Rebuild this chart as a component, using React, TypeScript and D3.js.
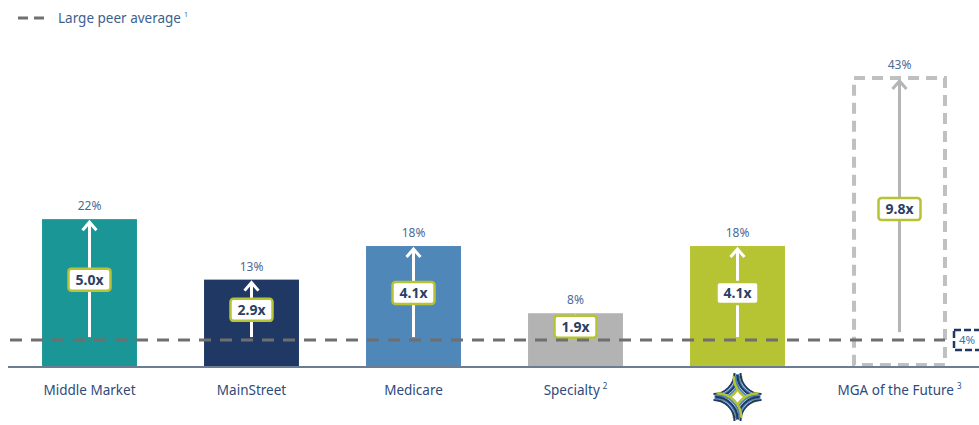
import React from "react";
import * as d3 from "d3";

const categories = ["Middle Market", "MainStreet", "Medicare", "Specialty", "", "MGA of the Future"];
const superscripts = ["", "", "", "2", "", "3"];
const marginPct = [22, 13, 18, 8, 18, 43];
const multiples = ["5.0x", "2.9x", "4.1x", "1.9x", "4.1x", "9.8x"];
const barColors = ["#1a9696", "#1f3864", "#4f87b9", "#b3b3b3", "#b6c333", "none"];
const peerAverage = 4;

const W = 979;
const H = 425;
const FONT = "'Noto Sans', 'Open Sans', sans-serif";

export default function App() {
  const x = d3.scaleBand<string>().domain(categories.map((c, i) => String(i))).range([8.5, 980.5]).paddingInner(0.414).paddingOuter(0.207);
  const y = d3.scaleLinear().domain([0, 43]).range([367, 78]);
  const bw = x.bandwidth();
  const yPeer = y(peerAverage);

  const logoCx = (x("4") as number) + bw / 2;
  const logoCy = 397;
  const logoArcs: { d: string; c: string }[] = [];
  const strands = [
    { off: 24, r: 21, c: "#1f3864" },
    { off: 23, r: 22, c: "#4f87b9" },
    { off: 22, r: 22, c: "#1f3864" },
    { off: 21, r: 23, c: "#4f87b9" },
    { off: 20, r: 23.5, c: "#b6c333" },
    { off: 21, r: 25, c: "#b6c333" },
  ];
  [[-1, -1], [1, -1], [1, 1], [-1, 1]].forEach(([sx, sy]) => {
    strands.forEach((st) => {
      const ox = logoCx + sx * st.off;
      const oy = logoCy + sy * st.off;
      const p1 = [ox - sx * st.r, oy];
      const p2 = [ox, oy - sy * st.r];
      const sweep = sx * sy > 0 ? 1 : 0;
      logoArcs.push({ d: `M${p1[0]},${p1[1]} A${st.r},${st.r} 0 0 ${sweep} ${p2[0]},${p2[1]}`, c: st.c });
    });
  });

  return (
    <svg width={W} height={H} style={{ position: "absolute", left: 0, top: 0, background: "#fff" }} fontFamily={FONT}>
      {/* legend */}
      <line x1={18} x2={48} y1={18} y2={18} stroke="#707070" strokeWidth={3} strokeDasharray="10,6" />
      <text x={58} y={23} fontSize={13.5} fill="#3d5f8f">
        Large peer average
        <tspan fontSize={7} dy={-6} dx={3}>1</tspan>
      </text>

      {categories.map((c, i) => {
        const x0 = x(String(i)) as number;
        const cx = x0 + bw / 2;
        const yt = y(marginPct[i]);
        const isMga = i === 5;
        const boxY = (yt + yPeer) / 2;
        const arrowColor = isMga ? "#b5b5b5" : "#ffffff";
        return (
          <g key={i}>
            {isMga ? (
              <rect x={x0 + 2} y={yt} width={bw - 4} height={y(0) - yt - 2} fill="none" stroke="#c0c0c0" strokeWidth={4} strokeDasharray="11,7" />
            ) : (
              <rect x={x0} y={yt} width={bw} height={y(0) - yt} fill={barColors[i]} />
            )}
            <text x={cx} y={yt - 9} textAnchor="middle" fontSize={12} fill="#4a6b98">{marginPct[i]}%</text>
            <line x1={cx} x2={cx} y1={yPeer - (isMga ? 8 : 3)} y2={yt + 3} stroke={arrowColor} strokeWidth={3} />
            <polyline points={`${cx - 7},${yt + 11} ${cx},${yt + 3} ${cx + 7},${yt + 11}`} fill="none" stroke={arrowColor} strokeWidth={3} />
            <rect x={cx - 21} y={boxY - 11} width={42} height={22} rx={3} fill="#fff" stroke="#b6c333" strokeWidth={2.5} />
            <text x={cx} y={boxY + 5} textAnchor="middle" fontSize={14} fontWeight="bold" fill="#2b3f66">{multiples[i]}</text>
            {c && (
              <text x={cx} y={395} textAnchor="middle" fontSize={13.5} fill="#2e4a7c">
                {c}
                {superscripts[i] && <tspan fontSize={8} dy={-6} dx={3}>{superscripts[i]}</tspan>}
              </text>
            )}
          </g>
        );
      })}

      {/* axis */}
      <line x1={8} x2={W} y1={y(0)} y2={y(0)} stroke="#6c7c93" strokeWidth={2} />

      {/* peer average line */}
      <line x1={10} x2={945} y1={yPeer} y2={yPeer} stroke="#6f6f6f" strokeWidth={3} strokeDasharray="12,9" />
      <rect x={954} y={yPeer - 10} width={34} height={20} fill="#fff" stroke="#1f3864" strokeWidth={2.5} strokeDasharray="7,3" />
      <text x={959} y={yPeer + 4} fontSize={11.5} fill="#4a6b98">{peerAverage}%</text>

      {/* logo */}
      <g fill="none" strokeWidth={2}>
        {logoArcs.map((a, i) => (
          <path key={i} d={a.d} stroke={a.c} />
        ))}
      </g>
    </svg>
  );
}
